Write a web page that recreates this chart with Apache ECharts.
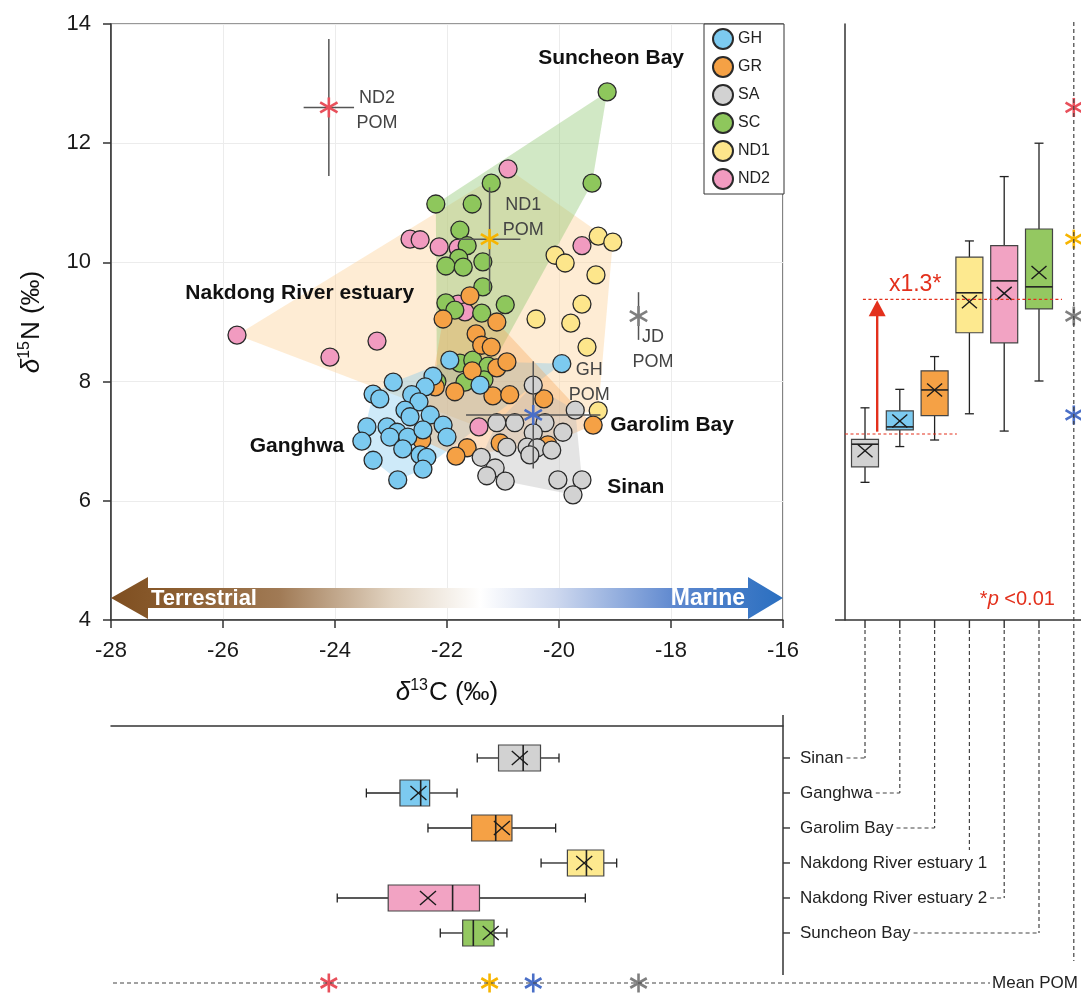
<!DOCTYPE html>
<html><head><meta charset="utf-8">
<script src="https://cdn.jsdelivr.net/npm/echarts@6/dist/echarts.min.js"></script>
<style>html,body{margin:0;padding:0;background:#fff}#c{width:1081px;height:994px}</style>
</head><body><div id="c"></div>
<script>
// ---------------- DATA ----------------
const groups = ['GH', 'GR', 'SA', 'SC', 'ND1', 'ND2'];
// scatter points [d13C, d15N]
const GH = [[-22.96,7.99],[-22.25,8.09],[-22.39,7.91],[-23.32,7.79],[-23.20,7.71],[-22.63,7.78],[-22.50,7.66],[-22.75,7.52],[-22.66,7.41],[-22.30,7.44],[-23.43,7.24],[-23.07,7.24],[-22.89,7.15],[-23.02,7.07],[-22.70,7.07],[-22.43,7.19],[-22.07,7.27],[-22.00,7.07],[-23.52,7.00],[-22.79,6.87],[-22.48,6.77],[-22.36,6.73],[-23.32,6.68],[-22.43,6.53],[-22.88,6.35],[-21.95,8.36],[-21.41,7.94],[-19.95,8.30]];
const GR = [[-21.59,9.44],[-22.07,9.05],[-21.11,9.00],[-21.48,8.80],[-21.38,8.61],[-21.21,8.58],[-21.55,8.18],[-21.11,8.23],[-20.93,8.33],[-21.86,7.83],[-22.21,7.91],[-21.18,7.76],[-20.88,7.78],[-20.27,7.71],[-19.39,7.27],[-21.64,6.89],[-21.84,6.75],[-21.05,6.97],[-20.20,6.94],[-22.45,7.02]];
const SA = [[-20.46,7.94],[-19.71,7.52],[-21.11,7.31],[-20.79,7.31],[-20.25,7.31],[-19.93,7.15],[-20.46,7.14],[-20.93,6.90],[-20.57,6.90],[-20.39,6.89],[-20.13,6.85],[-20.52,6.77],[-21.39,6.73],[-21.14,6.55],[-20.96,6.33],[-21.29,6.42],[-20.02,6.35],[-19.59,6.35],[-19.75,6.10]];
const SC = [[-19.14,12.86],[-19.41,11.33],[-21.21,11.33],[-22.20,10.98],[-21.55,10.98],[-21.77,10.54],[-21.64,10.28],[-21.79,10.07],[-22.02,9.94],[-21.71,9.92],[-21.36,10.01],[-21.36,9.59],[-22.02,9.32],[-21.86,9.20],[-21.38,9.15],[-20.96,9.29],[-21.77,8.31],[-21.54,8.36],[-21.27,8.26],[-21.68,7.99],[-21.34,8.03],[-22.18,8.00]];
const ND1 = [[-19.30,10.44],[-19.04,10.34],[-20.07,10.12],[-19.89,9.99],[-19.34,9.79],[-19.59,9.30],[-20.41,9.05],[-19.79,8.98],[-19.50,8.58],[-19.30,7.51]];
const ND2 = [[-25.75,8.78],[-24.09,8.41],[-23.25,8.68],[-22.66,10.39],[-22.48,10.38],[-22.14,10.26],[-21.80,10.24],[-20.91,11.57],[-19.59,10.28],[-21.80,9.30],[-21.68,9.17],[-21.43,7.24]];

// POM means and error bars
const pomNames = ['ND2', 'ND1', 'GH', 'JD'];
const pomC13 = [-24.11, -21.24, -20.46, -18.58];
const pomN15 = [12.60, 10.39, 7.44, 9.10];
const pomC13Err = [0.45, 0.55, 1.20, 0.05];
const pomN15Err = [1.15, 0.87, 0.90, 0.40];

// box plot summaries per site: [min, q1, median, q3, max]
const siteNames = ['Sinan', 'Ganghwa', 'Garolim Bay', 'Nakdong River estuary 1', 'Nakdong River estuary 2', 'Suncheon Bay'];
const n15Box = [[6.31,6.57,6.95,7.03,7.56],[6.91,7.19,7.24,7.51,7.87],[7.02,7.43,7.86,8.18,8.42],[7.46,8.82,9.49,10.09,10.36],[7.17,8.65,9.69,10.28,11.44],[8.01,9.22,9.59,10.56,12.00]];
const n15Mean = [6.84, 7.34, 7.86, 9.34, 9.48, 9.83];
const c13Box = [[-21.46,-21.08,-20.64,-20.33,-20.00],[-23.44,-22.84,-22.47,-22.31,-21.82],[-22.34,-21.56,-21.13,-20.84,-20.06],[-20.32,-19.85,-19.51,-19.20,-18.97],[-23.96,-23.05,-21.90,-21.42,-19.53],[-22.12,-21.72,-21.53,-21.16,-20.93]];
const c13Mean = [-20.70, -22.51, -21.02, -19.55, -22.34, -21.22];
const refLow = 7.12, refHigh = 9.38;

// ---------------- STYLE ----------------
const FONT = "'Liberation Sans', Arial, Helvetica, sans-serif";
const groupColors = {GH:'#7ccaf0', GR:'#f5a145', SA:'#d2d2d2', SC:'#8ec75c', ND1:'#fde68b', ND2:'#f19bc0'};
const siteColors = ['#d2d2d2', '#7ccaf0', '#f5a145', '#fde98f', '#f2a3c3', '#94c861'];
const pomColors = ['#e8505b', '#f7b500', '#4a6fc7', '#7f7f7f'];
const RED = '#e3301c';
const groupData = {GH, GR, SA, SC, ND1, ND2};

function convexHull(pts) {
  const p = pts.slice().sort((a, b) => a[0] - b[0] || a[1] - b[1]);
  const cr = (o, a, b) => (a[0]-o[0])*(b[1]-o[1]) - (a[1]-o[1])*(b[0]-o[0]);
  const lo = [], up = [];
  for (const q of p) { while (lo.length >= 2 && cr(lo[lo.length-2], lo[lo.length-1], q) <= 0) lo.pop(); lo.push(q); }
  for (let i = p.length - 1; i >= 0; i--) { const q = p[i]; while (up.length >= 2 && cr(up[up.length-2], up[up.length-1], q) <= 0) up.pop(); up.push(q); }
  up.pop(); lo.pop(); return lo.concat(up);
}
function star(cx, cy, r, color, lw) {
  return [90, 30, 150].map(a => {
    const rad = a * Math.PI / 180, dx = r * Math.cos(rad), dy = r * Math.sin(rad);
    return {type:'line', shape:{x1:cx-dx, y1:cy-dy, x2:cx+dx, y2:cy+dy}, style:{stroke:color, lineWidth:lw}};
  });
}
function xMark(cx, cy, hw, hh) {
  const s = {stroke:'#1a1a1a', lineWidth:1.4};
  return [{type:'line', shape:{x1:cx-hw,y1:cy-hh,x2:cx+hw,y2:cy+hh}, style:s},
          {type:'line', shape:{x1:cx-hw,y1:cy+hh,x2:cx+hw,y2:cy-hh}, style:s}];
}
function hullSeries(pts, color) {
  const hull = convexHull(pts);
  return {type:'custom', xAxisIndex:0, yAxisIndex:0, silent:true, z:1, data:[[pts[0][0], pts[0][1]]],
    renderItem: (params, api) => ({type:'polygon', shape:{points: hull.map(p => api.coord(p))}, style:{fill:color}})};
}

const chart = echarts.init(document.getElementById('c'));

const series = [];
series.push(hullSeries(ND1.concat(ND2), 'rgba(252,212,160,0.45)'));
series.push(hullSeries(SC, 'rgba(140,198,110,0.40)'));
series.push(hullSeries(GH, 'rgba(126,200,238,0.38)'));
series.push(hullSeries(GR, 'rgba(245,160,80,0.33)'));
series.push(hullSeries(SA, 'rgba(185,185,185,0.38)'));

['ND1', 'ND2', 'SC', 'GR', 'SA', 'GH'].forEach((g, k) => {
  series.push({type:'scatter', name:g, xAxisIndex:0, yAxisIndex:0, data:groupData[g], symbol:'circle', symbolSize:18, z:3 + k * 0.01,
    itemStyle:{color:groupColors[g], borderColor:'#2a2a2a', borderWidth:1.3, opacity:1}, emphasis:{disabled:true}});
});

// POM crosses in main plot
series.push({type:'custom', xAxisIndex:0, yAxisIndex:0, silent:true, z:6,
  data: pomNames.map((n, i) => [pomC13[i], pomN15[i], pomC13Err[i], pomN15Err[i], i]),
  renderItem: (params, api) => {
    const x = api.value(0), y = api.value(1), ex = api.value(2), ey = api.value(3), k = api.value(4);
    const c = api.coord([x, y]), l = api.coord([x-ex, y]), r = api.coord([x+ex, y]), t = api.coord([x, y+ey]), b = api.coord([x, y-ey]);
    const s = {stroke:'#555', lineWidth:1.5};
    return {type:'group', children:[
      {type:'line', shape:{x1:l[0], y1:c[1], x2:r[0], y2:c[1]}, style:s},
      {type:'line', shape:{x1:c[0], y1:t[1], x2:c[0], y2:b[1]}, style:s}
    ].concat(star(c[0], c[1], 10, pomColors[k], 2.6))};
  }});

// right panel boxes (d15N)
series.push({type:'custom', xAxisIndex:1, yAxisIndex:1, silent:true, z:4,
  data: n15Box.map((b, i) => [i, b[0], b[1], b[2], b[3], b[4], n15Mean[i]]),
  renderItem: (params, api) => {
    const i = api.value(0);
    const cx = api.coord([i, api.value(1)])[0];
    const Y = v => api.coord([i, v])[1];
    const mn = Y(api.value(1)), q1 = Y(api.value(2)), md = Y(api.value(3)), q3 = Y(api.value(4)), mx = Y(api.value(5)), me = Y(api.value(6));
    const hw = 13.5, cw = 4.5, ls = {stroke:'#222', lineWidth:1.3};
    return {type:'group', children:[
      {type:'line', shape:{x1:cx,y1:mn,x2:cx,y2:q1}, style:ls},
      {type:'line', shape:{x1:cx,y1:q3,x2:cx,y2:mx}, style:ls},
      {type:'line', shape:{x1:cx-cw,y1:mn,x2:cx+cw,y2:mn}, style:ls},
      {type:'line', shape:{x1:cx-cw,y1:mx,x2:cx+cw,y2:mx}, style:ls},
      {type:'rect', shape:{x:cx-hw, y:q3, width:2*hw, height:q1-q3}, style:{fill:siteColors[i], stroke:'#444', lineWidth:1.2}},
      {type:'line', shape:{x1:cx-hw,y1:md,x2:cx+hw,y2:md}, style:{stroke:'#222', lineWidth:1.6}}
    ].concat(xMark(cx, me, 7.5, 6.5))};
  }});
// right panel POM asterisks
series.push({type:'custom', xAxisIndex:1, yAxisIndex:1, silent:true, z:6,
  data: pomN15.map((v, k) => [6, v, k]),
  renderItem: (params, api) => {
    const c = api.coord([api.value(0), api.value(1)]);
    return {type:'group', children: star(c[0], c[1], 9.5, pomColors[api.value(2)], 2.6)};
  }});
// bottom panel boxes (d13C)
series.push({type:'custom', xAxisIndex:2, yAxisIndex:2, silent:true, z:4,
  data: c13Box.map((b, i) => [b[0], i, b[1], b[2], b[3], b[4], c13Mean[i]]),
  renderItem: (params, api) => {
    const i = api.value(1);
    const cy = api.coord([api.value(0), i])[1];
    const X = v => api.coord([v, i])[0];
    const mn = X(api.value(0)), q1 = X(api.value(2)), md = X(api.value(3)), q3 = X(api.value(4)), mx = X(api.value(5)), me = X(api.value(6));
    const hh = 13, cw = 4.5, ls = {stroke:'#222', lineWidth:1.3};
    return {type:'group', children:[
      {type:'line', shape:{x1:mn,y1:cy,x2:q1,y2:cy}, style:ls},
      {type:'line', shape:{x1:q3,y1:cy,x2:mx,y2:cy}, style:ls},
      {type:'line', shape:{x1:mn,y1:cy-cw,x2:mn,y2:cy+cw}, style:ls},
      {type:'line', shape:{x1:mx,y1:cy-cw,x2:mx,y2:cy+cw}, style:ls},
      {type:'rect', shape:{x:q1, y:cy-hh, width:q3-q1, height:2*hh}, style:{fill:siteColors[i], stroke:'#444', lineWidth:1.2}},
      {type:'line', shape:{x1:md,y1:cy-hh,x2:md,y2:cy+hh}, style:{stroke:'#222', lineWidth:1.6}}
    ].concat(xMark(me, cy, 8, 7))};
  }});
const POM_ROW = 6.429;
series.push({type:'custom', xAxisIndex:2, yAxisIndex:2, silent:true, z:6,
  data: pomC13.map((v, k) => [v, POM_ROW, k]),
  renderItem: (params, api) => {
    const c = api.coord([api.value(0), api.value(1)]);
    return {type:'group', children: star(c[0], c[1], 9.5, pomColors[api.value(2)], 2.6)};
  }});

const supRich = {
  it: {fontStyle:'italic', fontSize:26, fontFamily:FONT, color:'#111', verticalAlign:'bottom', lineHeight:32},
  sup: {fontSize:16, fontFamily:FONT, color:'#111', verticalAlign:'bottom', lineHeight:32, padding:[0,1,12,0]},
  n: {fontSize:26, fontFamily:FONT, color:'#111', verticalAlign:'bottom', lineHeight:32}
};

const option = {
  animation: false,
  backgroundColor: '#fff',
  grid: [
    {left:111, top:24, width:672, height:596, show:true, borderColor:'#333', borderWidth:1.2},
    {left:845, top:24, width:236, height:596},
    {left:111, top:726, width:672, height:257}
  ],
  xAxis: [
    {gridIndex:0, type:'value', min:-28, max:-16, interval:2,
      axisLine:{show:true, onZero:false, lineStyle:{color:'#333', width:1.5}},
      axisTick:{show:true, length:8, lineStyle:{color:'#333', width:1.5}},
      axisLabel:{fontSize:22, fontFamily:FONT, color:'#1a1a1a', margin:20},
      splitLine:{show:true, lineStyle:{color:'#ececec', width:1}},
      name:'{it|δ}{sup|13}{n|C (‰)}', nameLocation:'middle', nameGap:54, nameTextStyle:{rich:supRich}},
    {gridIndex:1, type:'value', min:-0.575, max:6.207, show:false},
    {gridIndex:2, type:'value', min:-28, max:-16, position:'top',
      axisLine:{show:true, onZero:false, lineStyle:{color:'#333', width:1.5}},
      axisTick:{show:false}, axisLabel:{show:false}, splitLine:{show:false}}
  ],
  yAxis: [
    {gridIndex:0, type:'value', min:4, max:14, interval:2,
      axisLine:{show:true, onZero:false, lineStyle:{color:'#333', width:1.5}},
      axisTick:{show:true, length:8, lineStyle:{color:'#333', width:1.5}},
      axisLabel:{fontSize:22, fontFamily:FONT, color:'#1a1a1a', margin:20},
      splitLine:{show:true, lineStyle:{color:'#ececec', width:1}},
      name:'{it|δ}{sup|15}{n|N (‰)}', nameLocation:'middle', nameGap:66, nameTextStyle:{rich:supRich}},
    {gridIndex:1, type:'value', min:4, max:14,
      axisLine:{show:true, onZero:false, lineStyle:{color:'#333', width:1.5}},
      axisTick:{show:false}, axisLabel:{show:false}, splitLine:{show:false}},
    {gridIndex:2, type:'value', min:-0.914, max:POM_ROW, inverse:true, show:false}
  ],
  legend: {
    data: groups.map(g => ({name:g, icon:'circle'})), orient:'vertical', left:704, top:24,
    itemWidth:20, itemHeight:20, itemGap:6, padding:[4,14,4,8], itemTextGap:7,
    borderColor:'#333', borderWidth:1, backgroundColor:'#fff', selectedMode:false,
    textStyle:{fontSize:16, fontFamily:FONT, color:'#222'}, z:20
  },
  series: series
};
chart.setOption(option);

// ---------------- decorations ----------------
const P0 = v => chart.convertToPixel({xAxisIndex:0, yAxisIndex:0}, v);
const P1 = v => chart.convertToPixel({xAxisIndex:1, yAxisIndex:1}, v);
const P2 = v => chart.convertToPixel({xAxisIndex:2, yAxisIndex:2}, v);
const mctx = document.createElement('canvas').getContext('2d');
const textW = (t, font) => { mctx.font = font; return mctx.measureText(t).width; };
const G = [];
const dash = {stroke:'#444', lineWidth:1.2, lineDash:[4,3]};
const line = (x1, y1, x2, y2, style) => G.push({type:'line', silent:true, z:100, shape:{x1, y1, x2, y2}, style});
const text = (t, x, y, font, fill, align, valign, extra) => G.push({type:'text', silent:true, z:101, x, y,
  style: Object.assign({text:t, font, fill, align:align || 'center', verticalAlign:valign || 'middle'}, extra || {})});

// gradient arrow
{
  const yc = P0([-28, 4.37])[1], x0 = P0([-28, 4])[0], x1 = P0([-16, 4])[0];
  const hl = 37, hh = 21, bh = 10;
  G.push({type:'polygon', silent:true, z:90, shape:{points:[[x0,yc],[x0+hl,yc-hh],[x0+hl,yc-bh],[x1-hl+2,yc-bh],[x1-hl+2,yc-hh],[x1,yc],[x1-hl+2,yc+hh],[x1-hl+2,yc+bh],[x0+hl,yc+bh],[x0+hl,yc+hh]]},
    style:{fill:new echarts.graphic.LinearGradient(0,0,1,0,[
      {offset:0, color:'#7e4e20'},{offset:0.1, color:'#8c5e30'},{offset:0.25, color:'#a07a55'},
      {offset:0.42, color:'#e2d4c2'},{offset:0.55, color:'#ffffff'},{offset:0.66, color:'#cfd9ef'},
      {offset:0.84, color:'#5e88cf'},{offset:1, color:'#2a6fc0'}])}});
  text('Terrestrial', x0 + 40, yc + 1, 'bold 22px ' + FONT, '#fff', 'left');
  text('Marine', x1 - 38, yc + 1, 'bold 23px ' + FONT, '#fff', 'right');
}
// site labels in main plot
[['Suncheon Bay', -19.07, 13.43], ['Nakdong River estuary', -24.63, 9.49], ['Ganghwa', -24.68, 6.92], ['Garolim Bay', -17.98, 7.27], ['Sinan', -18.63, 6.23]]
  .forEach(([t, x, y]) => { const p = P0([x, y]); text(t, p[0], p[1], 'bold 21px ' + FONT, '#111'); });
[['ND2\nPOM', -23.25, 12.54], ['ND1\nPOM', -20.64, 10.76], ['JD\nPOM', -18.32, 8.53], ['GH\nPOM', -19.46, 7.99]]
  .forEach(([t, x, y]) => { const p = P0([x, y]); text(t, p[0], p[1], '18px ' + FONT, '#444', 'center', 'middle', {lineHeight:25}); });

// right panel
{
  const yb = P1([0, 4])[1];
  const xl = P1([-0.575, 4])[0];
  line(xl - 10, yb, P1([6.207, 4])[0], yb, {stroke:'#333', lineWidth:1.5});
  // red reference lines and arrow
  const rs = {stroke:RED, lineWidth:1.1, lineDash:[3,2.5]};
  line(xl, P1([0, refLow])[1], P1([2.64, refLow])[0], P1([0, refLow])[1], rs);
  line(P1([-0.06, 0])[0], P1([0, refHigh])[1], P1([5.66, 0])[0], P1([0, refHigh])[1], rs);
  const ax = P1([0.35, 0])[0], ay0 = P1([0, refLow + 0.04])[1], ayT = P1([0, refHigh])[1] + 1;
  line(ax, ay0, ax, ayT + 15, {stroke:RED, lineWidth:2.4});
  G.push({type:'polygon', silent:true, z:100, shape:{points:[[ax, ayT], [ax-8.5, ayT+16], [ax+8.5, ayT+16]]}, style:{fill:RED}});
  const tp = P1([1.44, 9.63]);
  text('x1.3*', tp[0], tp[1], '23px ' + FONT, RED);
  const pp = P1([3.3, 4.34]);
  G.push({type:'text', silent:true, z:101, x:pp[0], y:pp[1], style:{text:'{a|*}{p|p}{a| <0.01}', fill:RED, align:'left', verticalAlign:'middle',
    rich:{a:{font:'20px ' + FONT, fill:RED}, p:{font:'italic 20px ' + FONT, fill:RED}}}});
  // ticks and connectors
  const labelX = 800, lblFont = '17px ' + FONT;
  for (let i = 0; i < 6; i++) {
    const vx = P1([i, 4])[0];
    line(vx, yb, vx, yb + 8, {stroke:'#333', lineWidth:1.4});
    const rowY = P2([-16, i])[1];
    const end = labelX + textW(siteNames[i], lblFont);
    if (end + 8 < vx) {
      line(vx, yb + 10, vx, rowY, dash);
      line(end + 3, rowY, vx, rowY, dash);
    } else {
      line(vx, yb + 10, vx, rowY - 13, dash);
    }
  }
  const pvx = P1([6, 4])[0];
  line(pvx, P1([6, 14])[1] - 2, pvx, P2([-16, POM_ROW])[1] - 22, dash);
}
// bottom panel decorations
{
  const rx = P2([-16, 0])[0];
  line(rx, P2([-16, -0.914])[1] - 11, rx, P2([-16, POM_ROW])[1] - 8, {stroke:'#333', lineWidth:1.5});
  for (let i = 0; i < 6; i++) {
    const y = P2([-16, i])[1];
    line(rx, y, rx + 7, y, {stroke:'#333', lineWidth:1.4});
    text(siteNames[i], 800, y, '17px ' + FONT, '#222', 'left');
  }
  const py = P2([-16, POM_ROW])[1];
  const endX = 1081 - textW('Mean POM', '17px ' + FONT) - 3;
  line(P2([-28, 0])[0] + 2, py, endX - 2, py, dash);
  text('Mean POM', endX, py, '17px ' + FONT, '#222', 'left');
}
chart.setOption({graphic: G});
</script>
</body></html>
